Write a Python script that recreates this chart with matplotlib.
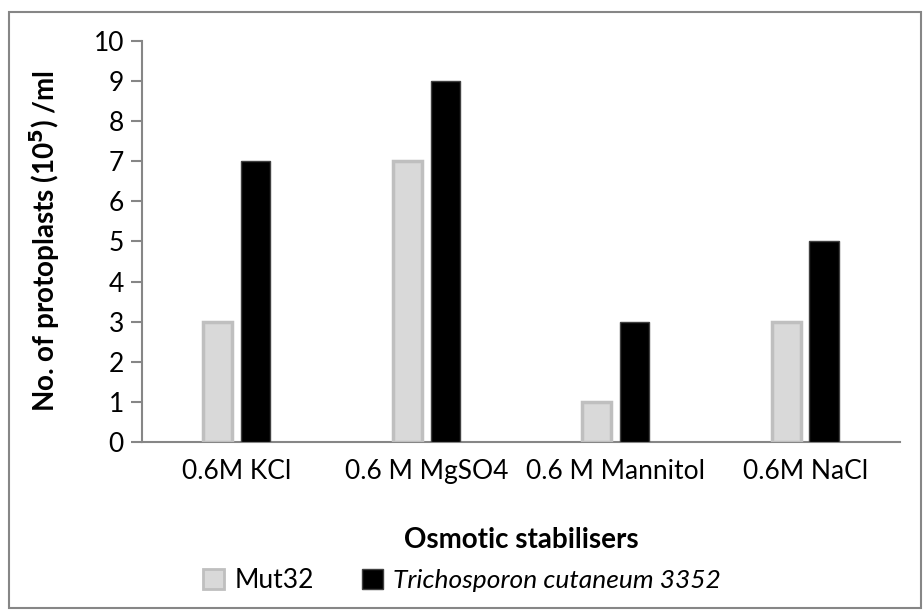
import matplotlib
matplotlib.use("Agg")
import matplotlib.pyplot as plt
from matplotlib.patches import Rectangle, Patch
import numpy as np

# data
categories = ["0.6M KCl", "0.6 M MgSO4", "0.6 M Mannitol", "0.6M NaCl"]
mut32 = [3, 7, 1, 3]
tricho = [7, 9, 3, 5]
series_names = ["Mut32", "Trichosporon cutaneum 3352"]

plt.rcParams["font.family"] = ["Lato", "DejaVu Sans"]
axis_grey = "#868686"

fig = plt.figure(figsize=(9.24, 6.10), dpi=100)
ax = fig.add_axes([0.1537, 0.2754, 0.8203, 0.6574])

# outer chart border
fig.patches.append(Rectangle((0.010, 0.003), 0.987, 0.977, transform=fig.transFigure,
                             fill=False, edgecolor=axis_grey, linewidth=1.5))

x = np.arange(len(categories))
w = 0.155
off = 0.1
ax.bar(x - off, mut32, w, color="#d9d9d9", edgecolor="#bfbfbf", linewidth=2.5,
       zorder=3)
ax.bar(x + off, tricho, w, color="black", edgecolor="#404040", linewidth=1,
       zorder=3)

ax.set_xlim(-0.5, len(categories) - 0.5)
ax.set_ylim(0, 10)
ax.set_yticks(range(0, 11))
ax.set_xticks(x)
ax.set_xticklabels(categories)

for s in ["top", "right"]:
    ax.spines[s].set_visible(False)
for s in ["left", "bottom"]:
    ax.spines[s].set_color(axis_grey)
    ax.spines[s].set_linewidth(1.5)
ax.tick_params(axis="y", length=8, width=1.5, color=axis_grey, labelsize=19, pad=5)
ax.tick_params(axis="x", length=0, labelsize=19, pad=12)

ax.set_ylabel("No. of protoplasts (10$^\\mathbf{5}$) /ml", fontsize=20,
              fontweight="bold")
ax.yaxis.set_label_coords(-0.105, 0.5)
ax.set_xlabel("Osmotic stabilisers", fontsize=20, fontweight="bold")
ax.xaxis.set_label_coords(0.5, -0.212)

handles = [Patch(facecolor="#d9d9d9", edgecolor="#bfbfbf", linewidth=2),
           Patch(facecolor="black", edgecolor="#404040")]
leg = fig.legend(handles, series_names, loc="center", bbox_to_anchor=(0.50, 0.048),
                 ncol=2, frameon=False, fontsize=19, handlelength=0.8,
                 handleheight=0.8, handletextpad=0.4, columnspacing=1.8)
leg.get_texts()[1].set_fontstyle("italic")

fig.savefig("out.png", dpi=100)
